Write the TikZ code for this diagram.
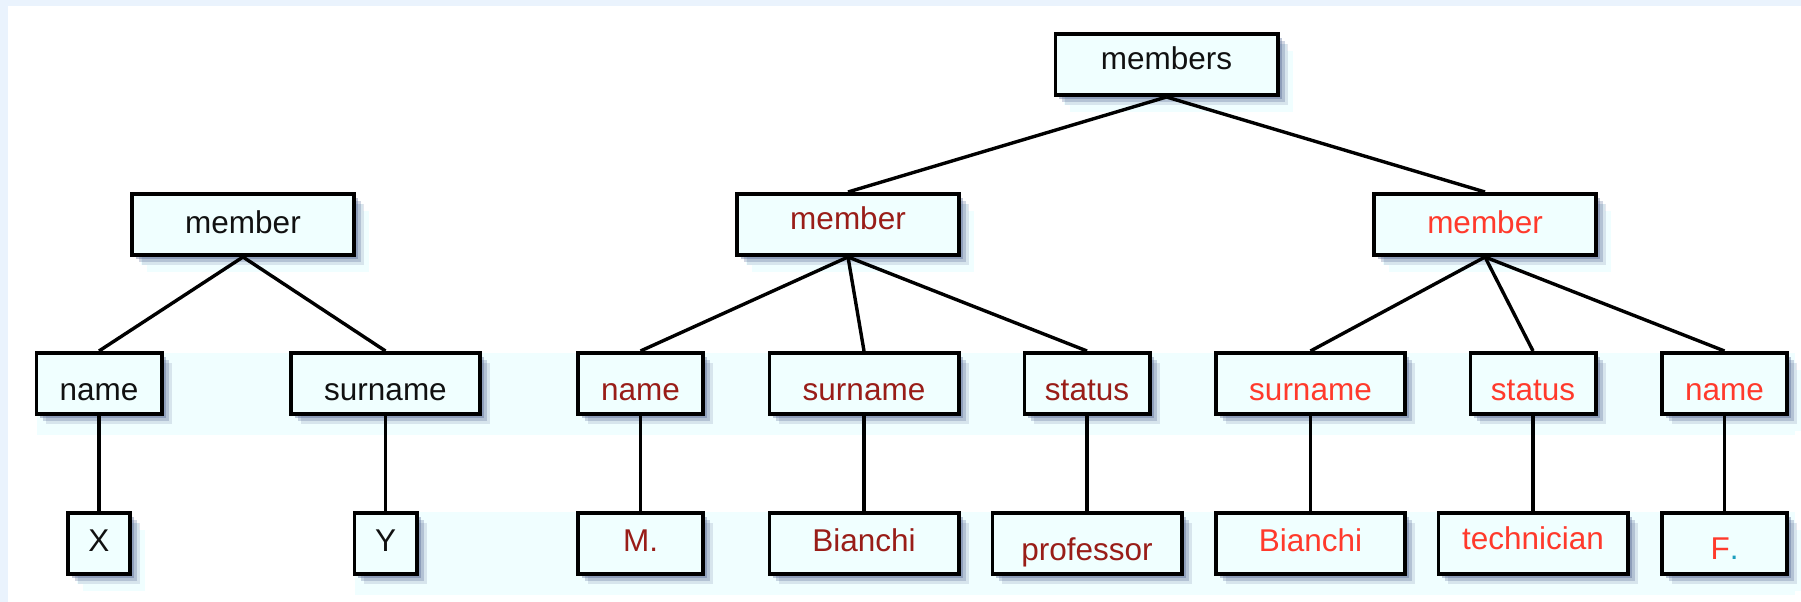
\documentclass[tikz,border=0pt]{standalone}
\usepackage{fontspec}
\setmainfont{Liberation Sans}
\usetikzlibrary{positioning,shadows}
\definecolor{frame}{HTML}{EAF3FD}
\definecolor{band}{HTML}{F0FEFF}
\definecolor{boxfill}{HTML}{F0FFFF}
\definecolor{shade}{HTML}{4A5C8C}
\definecolor{fgplain}{HTML}{111111}
\definecolor{fgdark}{HTML}{991D18}
\definecolor{fgbright}{HTML}{FF3A2C}
\definecolor{fgdot}{HTML}{1A9EBE}

\begin{document}
\begin{tikzpicture}[
  x=1pt, y=-1pt,
  font=\fontsize{31.5}{38}\selectfont,
  el/.style={draw=black, line width=3.6pt, fill=boxfill, minimum height=61.4pt, inner sep=0pt, text height=16pt, text depth=0pt,
    general shadow={fill=band, shadow xshift=9pt, shadow yshift=-10pt},
    general shadow={fill=band, shadow xshift=15pt, shadow yshift=-17pt},
    general shadow={fill=shade, opacity=.15, shadow xshift=10pt, shadow yshift=-10pt},
    general shadow={fill=shade, opacity=.25, shadow xshift=7pt, shadow yshift=-7pt},
    general shadow={fill=shade, opacity=.35, shadow xshift=4pt, shadow yshift=-4pt}},
  wide/.style={el, minimum width=222.4pt},
  long/.style={el, minimum width=189.4pt},
  short/.style={el, minimum width=125.4pt},
  tiny/.style={el, minimum width=62.4pt},
  plain/.style={text=fgplain},
  dark/.style={text=fgdark},
  bright/.style={text=fgbright},
  link/.style={line width=3.4pt, draw=black},
]
% page frame and the pale row bands
\fill[frame] (0,0) rectangle (1801,602);
\fill[white] (8,6) rectangle (1801,602);
\fill[band] (37,353) rectangle (1795,435);
\fill[band] (355,512) rectangle (1795,595);
\useasboundingbox (0,0) rectangle (1801,602);
% root and second level
\node[wide, plain, text height=11pt] (members) at (1166.5,64.5) {members};
\node[wide, plain, text height=17pt] (memL) at (243,224.5) {member};
\node[wide, dark, text height=10pt] (memM) at (848,224.5) {member};
\node[wide, bright, text height=17pt] (memR) at (1485,224.5) {member};
% third level: the fields of each member
\node[short, plain, text height=33pt] (nameL) at (99,383.5) {name};
\node[long, plain, text height=33pt] (surL) at (385.5,383.5) {surname};
\node[short, dark, text height=33pt] (nameM) at (640.5,383.5) {name};
\node[long, dark, text height=33pt] (surM) at (864,383.5) {surname};
\node[short, dark, text height=33pt] (statM) at (1087,383.5) {status};
\node[long, bright, text height=33pt] (surR) at (1310.5,383.5) {surname};
\node[short, bright, text height=33pt] (statR) at (1533,383.5) {status};
\node[short, bright, text height=33pt] (nameR) at (1724.5,383.5) {name};
% values, hung below their fields
\node[tiny, plain, below=95pt of nameL] (valX) {X};
\node[tiny, plain, below=95pt of surL] (valY) {Y};
\node[short, dark, below=95pt of nameM] (valM) {M.};
\node[long, dark, below=95pt of surM] (bianM) {Bianchi};
\node[long, dark, text height=33pt, below=95pt of statM] (prof) {professor};
\node[long, bright, below=95pt of surR] (bianR) {Bianchi};
\node[long, bright, text height=11pt, below=95pt of statR] (tech) {technician};
\node[short, bright, text height=31pt, below=95pt of nameR] (valF) {F\textcolor{fgdot}{.}};
% tree edges
\draw[link] (members.south) -- (memM.north);
\draw[link] (members.south) -- (memR.north);
\draw[link] (memL.south) -- (nameL.north);
\draw[link] (memL.south) -- (surL.north);
\draw[link] (memM.south) -- (nameM.north);
\draw[link] (memM.south) -- (surM.north);
\draw[link] (memM.south) -- (statM.north);
\draw[link] (memR.south) -- (surR.north);
\draw[link] (memR.south) -- (statR.north);
\draw[link] (memR.south) -- (nameR.north);
\draw[link] (nameL) -- (valX);
\draw[link] (surL) -- (valY);
\draw[link] (nameM) -- (valM);
\draw[link] (surM) -- (bianM);
\draw[link] (statM) -- (prof);
\draw[link] (surR) -- (bianR);
\draw[link] (statR) -- (tech);
\draw[link] (nameR) -- (valF);
\end{tikzpicture}
\end{document}
